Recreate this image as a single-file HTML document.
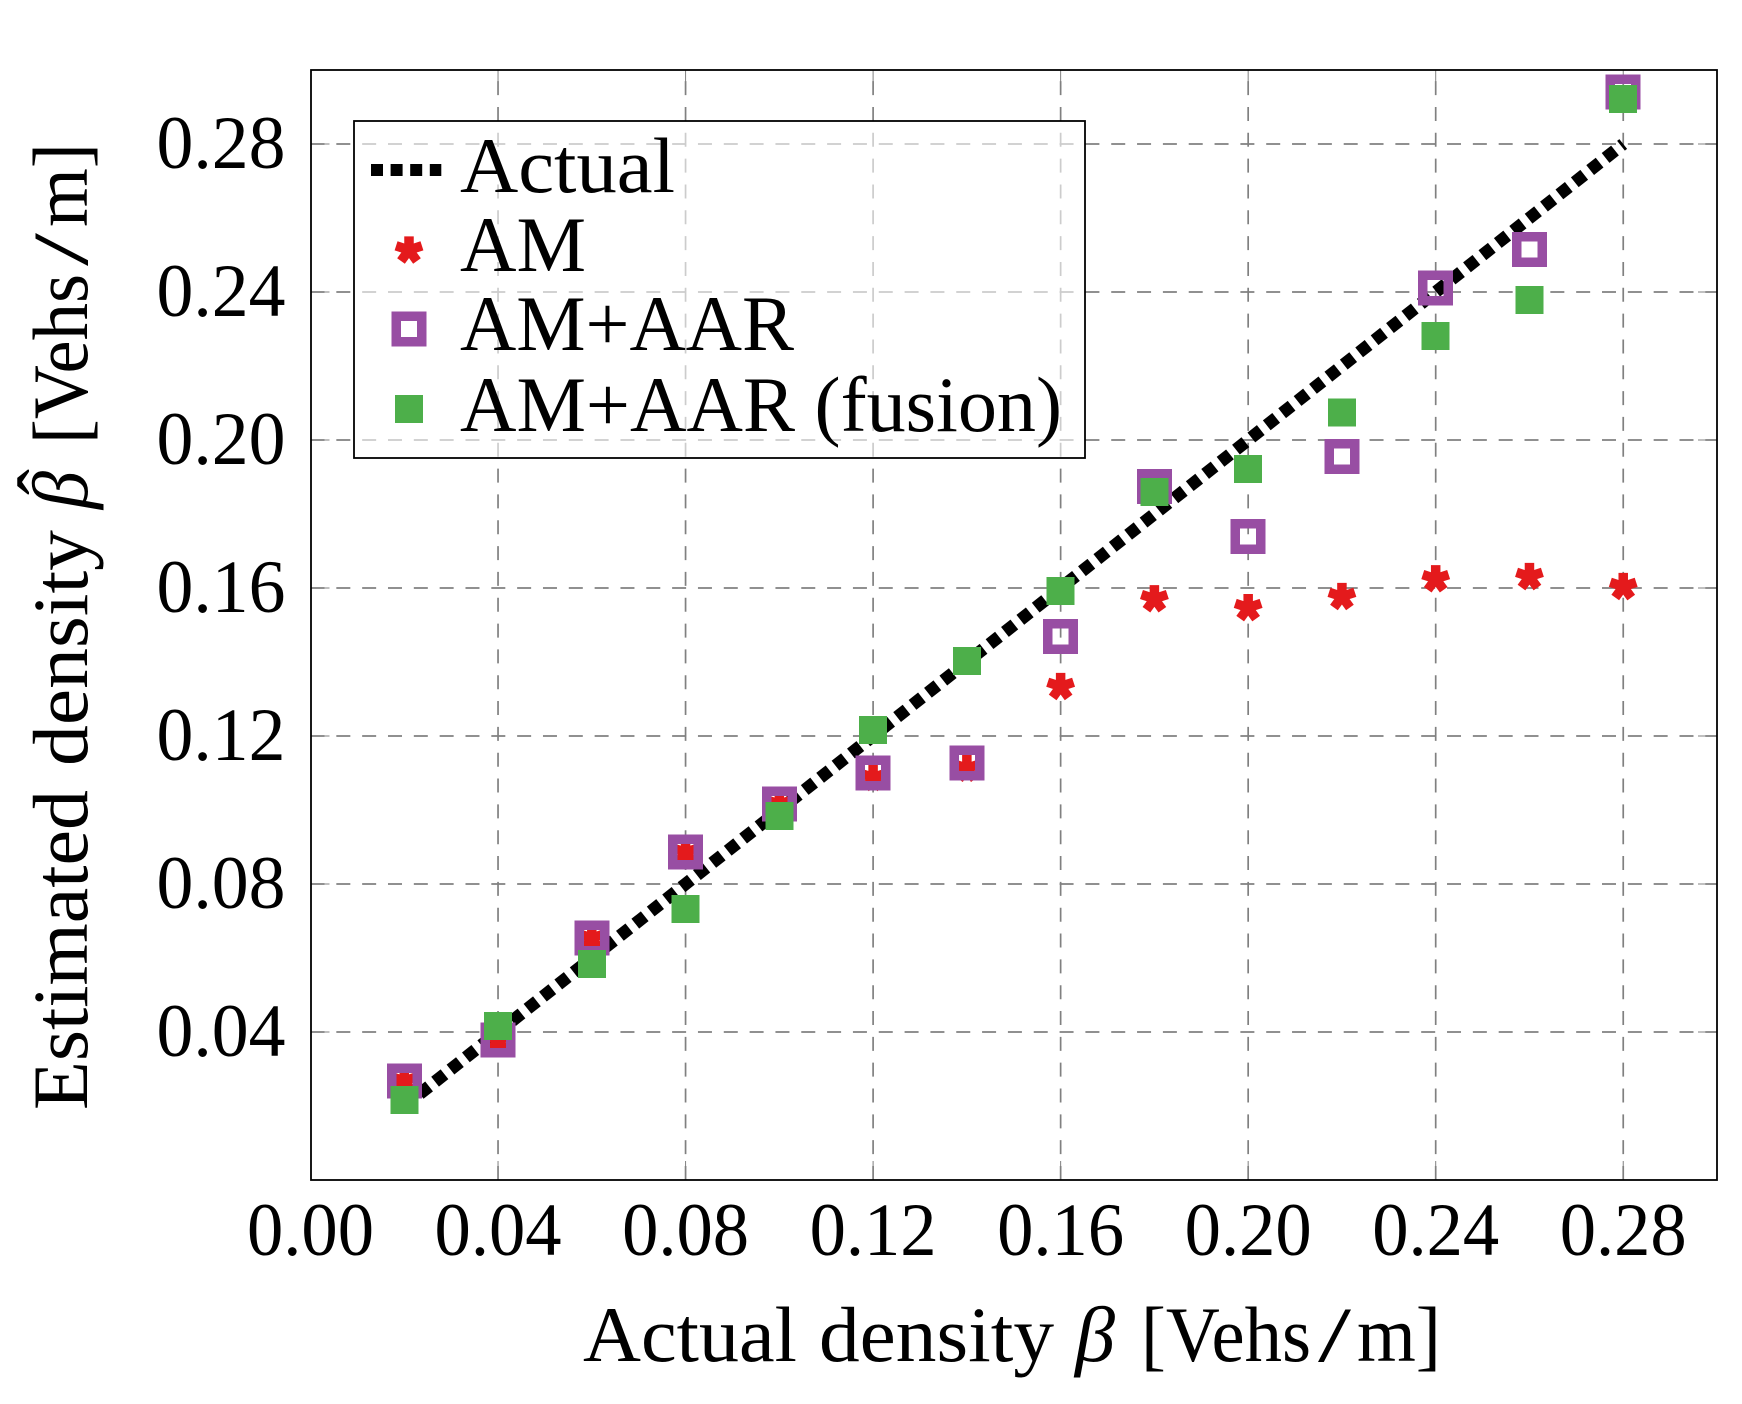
<!DOCTYPE html>
<html lang="en">
<head>
<meta charset="utf-8">
<title>Estimated vs actual density</title>
<style>
html,body{margin:0;padding:0;background:#fff;}
svg{display:block;}
text{font-family:"Liberation Serif",serif;fill:#000;}
</style>
</head>
<body>
<svg id="chart" xmlns="http://www.w3.org/2000/svg" width="1742" height="1404" viewBox="0 0 1742 1404">
  <rect x="0" y="0" width="1742" height="1404" fill="#ffffff"/>
  <g id="grid"></g>
  <g id="series"></g>
  <rect x="311" y="70" width="1406" height="1110" fill="none" stroke="#000" stroke-width="1.8"/>
  <g id="tick-labels"></g>

  <g font-size="78">
    <text x="583" y="1361" textLength="214" lengthAdjust="spacingAndGlyphs">Actual</text>
    <text x="819" y="1361" textLength="235" lengthAdjust="spacingAndGlyphs">density</text>
    <text x="1075" y="1361" font-style="italic" textLength="40" lengthAdjust="spacingAndGlyphs">β</text>
    <text x="1141" y="1361" textLength="170" lengthAdjust="spacingAndGlyphs">[Vehs</text>
    <text x="1318" y="1361" textLength="33" lengthAdjust="spacingAndGlyphs">/</text>
    <text x="1357" y="1361" textLength="84" lengthAdjust="spacingAndGlyphs">m]</text>
  </g>

  <g font-size="78">
    <text transform="translate(87 1110) rotate(-90)" textLength="320" lengthAdjust="spacingAndGlyphs">Estimated</text>
    <text transform="translate(87 766) rotate(-90)" textLength="236" lengthAdjust="spacingAndGlyphs">density</text>
    <text transform="translate(87 509) rotate(-90)" font-style="italic" textLength="38" lengthAdjust="spacingAndGlyphs">β</text>
    <text transform="translate(72 495) rotate(-90)">ˆ</text>
    <text transform="translate(87 444) rotate(-90)" textLength="170" lengthAdjust="spacingAndGlyphs">[Vehs</text>
    <text transform="translate(87 266) rotate(-90)" textLength="33" lengthAdjust="spacingAndGlyphs">/</text>
    <text transform="translate(87 227) rotate(-90)" textLength="84" lengthAdjust="spacingAndGlyphs">m]</text>
  </g>

  <g>
    <rect x="354" y="121" width="731" height="337" fill="#ffffff" fill-opacity="0.6" stroke="#000" stroke-width="1.8"/>
    <g>
      <line x1="371" y1="170" x2="441.3" y2="170" stroke="#000" stroke-width="12" stroke-dasharray="12 7.6"/>
      <text x="460" y="192" font-size="78" textLength="215" lengthAdjust="spacingAndGlyphs">Actual</text>
    </g>
    <g>
      <path id="legend-star" fill="none" stroke="#e41a1c" stroke-width="9.5"/>
      <text x="460" y="271" font-size="78" textLength="126" lengthAdjust="spacingAndGlyphs">AM</text>
    </g>
    <g>
      <rect x="396" y="316" width="25.5" height="25.5" fill="none" stroke="#984ea3" stroke-width="9.5" shape-rendering="crispEdges"/>
      <text x="460" y="350" font-size="78" textLength="334" lengthAdjust="spacingAndGlyphs">AM+AAR</text>
    </g>
    <g>
      <rect x="395" y="395" width="28" height="28" fill="#4daf4a" shape-rendering="crispEdges"/>
      <text x="460" y="431" font-size="78" textLength="602" lengthAdjust="spacingAndGlyphs">AM+AAR (fusion)</text>
    </g>
  </g>
</svg>

<script>
const categories = [0.02, 0.04, 0.06, 0.08, 0.10, 0.12, 0.14, 0.16, 0.18, 0.20, 0.22, 0.24, 0.26, 0.28];
const actualValues = [0.02, 0.04, 0.06, 0.08, 0.10, 0.12, 0.14, 0.16, 0.18, 0.20, 0.22, 0.24, 0.26, 0.28];
const amValues = [0.0268, 0.0378, 0.0654, 0.0886, 0.1016, 0.1088, 0.1113, 0.1334, 0.1571, 0.1547, 0.1577, 0.1625, 0.1631, 0.1604];
const amAarValues = [0.0268, 0.0378, 0.0654, 0.0886, 0.1016, 0.1100, 0.1127, 0.1469, 0.1874, 0.1739, 0.1955, 0.2411, 0.2515, 0.2940];
const fusionValues = [0.0216, 0.0416, 0.0584, 0.0732, 0.0984, 0.1216, 0.1403, 0.1592, 0.1859, 0.1922, 0.2075, 0.2281, 0.2378, 0.2922];
const xTickValues = [0.00, 0.04, 0.08, 0.12, 0.16, 0.20, 0.24, 0.28];
const xTickLabels = ["0.00", "0.04", "0.08", "0.12", "0.16", "0.20", "0.24", "0.28"];
const yTickValues = [0.04, 0.08, 0.12, 0.16, 0.20, 0.24, 0.28];
const yTickLabels = ["0.04", "0.08", "0.12", "0.16", "0.20", "0.24", "0.28"];

const NS = "http://www.w3.org/2000/svg";
const PLOT_LEFT = 310.5, PLOT_RIGHT = 1717, PLOT_TOP = 70, PLOT_BOTTOM = 1180;
const AXIS_MAX = 0.30;
const GRID_DASH = "14 11.83", GRID_COLOR = "#808080", TICK_LEN = 19;
const TICK_LABEL_WIDTH = 127;

function xScale(v) { return PLOT_LEFT + (v / AXIS_MAX) * (PLOT_RIGHT - PLOT_LEFT); }
function yScale(v) { return PLOT_BOTTOM - (v / AXIS_MAX) * (PLOT_BOTTOM - PLOT_TOP); }
function make(tag, attrs, parent) {
  const el = document.createElementNS(NS, tag);
  for (const k in attrs) el.setAttribute(k, attrs[k]);
  parent.appendChild(el);
  return el;
}
function starPath(cx, cy) {
  const r = 13.6;
  let d = "";
  for (let i = 0; i < 5; i++) {
    const a = (-90 + i * 72) * Math.PI / 180;
    d += "M" + cx + " " + cy + "L" + (cx + r * Math.cos(a)).toFixed(2) + " " + (cy + r * Math.sin(a)).toFixed(2);
  }
  return d;
}

const gridG = document.getElementById("grid");
const seriesG = document.getElementById("series");
const labelsG = document.getElementById("tick-labels");

xTickValues.forEach(function (v, i) {
  const x = xScale(v);
  if (v > 0) {
    const line = make("line", { x1: x, y1: PLOT_BOTTOM, x2: x, y2: PLOT_TOP, stroke: GRID_COLOR, "stroke-width": 1.7, "stroke-dasharray": GRID_DASH }, gridG);
    
    
    const t1 = make("line", { x1: x, y1: PLOT_BOTTOM, x2: x, y2: PLOT_BOTTOM - TICK_LEN, stroke: GRID_COLOR, "stroke-width": 1 }, gridG);
    
    
    const t2 = make("line", { x1: x, y1: PLOT_TOP, x2: x, y2: PLOT_TOP + TICK_LEN, stroke: GRID_COLOR, "stroke-width": 1 }, gridG);
    
    
  }
  const label = make("text", { x: x - TICK_LABEL_WIDTH / 2, y: 1255, "font-size": 75, textLength: TICK_LABEL_WIDTH, lengthAdjust: "spacingAndGlyphs" }, labelsG);
  
  
  label.textContent = xTickLabels[i];
});

yTickValues.forEach(function (v, i) {
  const y = yScale(v);
  const line = make("line", { x1: PLOT_LEFT, y1: y, x2: PLOT_RIGHT, y2: y, stroke: GRID_COLOR, "stroke-width": 1.7, "stroke-dasharray": GRID_DASH }, gridG);
  
  
  const t1 = make("line", { x1: PLOT_LEFT, y1: y, x2: PLOT_LEFT + TICK_LEN, y2: y, stroke: GRID_COLOR, "stroke-width": 1 }, gridG);
  
  
  const t2 = make("line", { x1: PLOT_RIGHT, y1: y, x2: PLOT_RIGHT - TICK_LEN, y2: y, stroke: GRID_COLOR, "stroke-width": 1 }, gridG);
  
  
  const label = make("text", { x: 156.5, y: y + 24, "font-size": 75, textLength: TICK_LABEL_WIDTH + 2, lengthAdjust: "spacingAndGlyphs" }, labelsG);
  
  
  label.textContent = yTickLabels[i];
});

const actualPts = categories.map(function (c, i) { return xScale(c).toFixed(2) + "," + yScale(actualValues[i]).toFixed(2); }).join(" ");
const actualLine = make("polyline", { points: actualPts, fill: "none", stroke: "#000", "stroke-width": 12.5, "stroke-dasharray": "12 7.62" }, seriesG);



categories.forEach(function (c, i) {
  const star = make("path", { d: starPath(xScale(c), yScale(amValues[i])), fill: "none", stroke: "#e41a1c", "stroke-width": 9.5 }, seriesG);
  
  
});

categories.forEach(function (c, i) {
  const s = 25.5;
  const sq = make("rect", { x: xScale(c) - s / 2, y: yScale(amAarValues[i]) - s / 2, width: s, height: s, fill: "none", stroke: "#984ea3", "stroke-width": 9.5, "shape-rendering": "crispEdges" }, seriesG);
  
  
});

categories.forEach(function (c, i) {
  const s = 28;
  const sq = make("rect", { x: xScale(c) - s / 2, y: yScale(fusionValues[i]) - s / 2, width: s, height: s, fill: "#4daf4a", "shape-rendering": "crispEdges" }, seriesG);
  
  
});

document.getElementById("legend-star").setAttribute("d", starPath(409, 250));
</script>
</body>
</html>
